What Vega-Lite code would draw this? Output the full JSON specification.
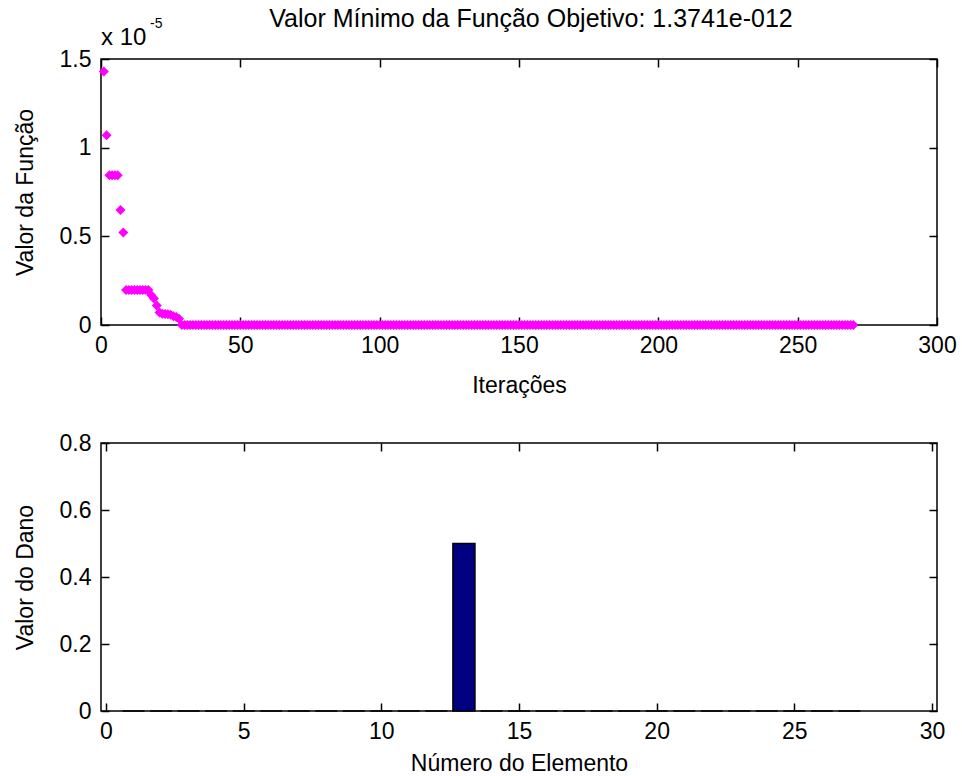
{
  "$schema": "https://vega.github.io/schema/vega-lite/v6.json",
  "background": "white",
  "padding": {"left": 13, "top": 6, "right": 5, "bottom": 0},
  "spacing": 33,
  "datasets": {
    "iteracoes": [
      {"i":1,"v":1.43e-5},{"i":2,"v":1.07e-5},{"i":3,"v":8.45e-6},{"i":4,"v":8.45e-6},{"i":5,"v":8.45e-6},{"i":6,"v":8.45e-6},{"i":7,"v":6.48e-6},{"i":8,"v":5.22e-6},
      {"i":9,"v":1.97e-6},{"i":10,"v":1.97e-6},{"i":11,"v":1.97e-6},{"i":12,"v":1.97e-6},{"i":13,"v":1.97e-6},{"i":14,"v":1.97e-6},{"i":15,"v":1.97e-6},{"i":16,"v":1.97e-6},{"i":17,"v":1.97e-6},
      {"i":18,"v":1.69e-6},{"i":19,"v":1.5e-6},{"i":20,"v":1.1e-6},{"i":21,"v":7e-7},{"i":22,"v":6.3e-7},{"i":23,"v":6.2e-7},{"i":24,"v":6e-7},{"i":25,"v":5.8e-7},{"i":26,"v":5e-7},{"i":27,"v":4.5e-7},{"i":28,"v":3.5e-7},
      {"i":29,"v":0},{"i":30,"v":0},{"i":31,"v":0},{"i":32,"v":0},{"i":33,"v":0},{"i":34,"v":0},{"i":35,"v":0},{"i":36,"v":0},{"i":37,"v":0},{"i":38,"v":0},{"i":39,"v":0},
      {"i":40,"v":0},{"i":41,"v":0},{"i":42,"v":0},{"i":43,"v":0},{"i":44,"v":0},{"i":45,"v":0},{"i":46,"v":0},{"i":47,"v":0},{"i":48,"v":0},{"i":49,"v":0},
      {"i":50,"v":0},{"i":51,"v":0},{"i":52,"v":0},{"i":53,"v":0},{"i":54,"v":0},{"i":55,"v":0},{"i":56,"v":0},{"i":57,"v":0},{"i":58,"v":0},{"i":59,"v":0},
      {"i":60,"v":0},{"i":61,"v":0},{"i":62,"v":0},{"i":63,"v":0},{"i":64,"v":0},{"i":65,"v":0},{"i":66,"v":0},{"i":67,"v":0},{"i":68,"v":0},{"i":69,"v":0},
      {"i":70,"v":0},{"i":71,"v":0},{"i":72,"v":0},{"i":73,"v":0},{"i":74,"v":0},{"i":75,"v":0},{"i":76,"v":0},{"i":77,"v":0},{"i":78,"v":0},{"i":79,"v":0},
      {"i":80,"v":0},{"i":81,"v":0},{"i":82,"v":0},{"i":83,"v":0},{"i":84,"v":0},{"i":85,"v":0},{"i":86,"v":0},{"i":87,"v":0},{"i":88,"v":0},{"i":89,"v":0},
      {"i":90,"v":0},{"i":91,"v":0},{"i":92,"v":0},{"i":93,"v":0},{"i":94,"v":0},{"i":95,"v":0},{"i":96,"v":0},{"i":97,"v":0},{"i":98,"v":0},{"i":99,"v":0},
      {"i":100,"v":0},{"i":101,"v":0},{"i":102,"v":0},{"i":103,"v":0},{"i":104,"v":0},{"i":105,"v":0},{"i":106,"v":0},{"i":107,"v":0},{"i":108,"v":0},{"i":109,"v":0},
      {"i":110,"v":0},{"i":111,"v":0},{"i":112,"v":0},{"i":113,"v":0},{"i":114,"v":0},{"i":115,"v":0},{"i":116,"v":0},{"i":117,"v":0},{"i":118,"v":0},{"i":119,"v":0},
      {"i":120,"v":0},{"i":121,"v":0},{"i":122,"v":0},{"i":123,"v":0},{"i":124,"v":0},{"i":125,"v":0},{"i":126,"v":0},{"i":127,"v":0},{"i":128,"v":0},{"i":129,"v":0},
      {"i":130,"v":0},{"i":131,"v":0},{"i":132,"v":0},{"i":133,"v":0},{"i":134,"v":0},{"i":135,"v":0},{"i":136,"v":0},{"i":137,"v":0},{"i":138,"v":0},{"i":139,"v":0},
      {"i":140,"v":0},{"i":141,"v":0},{"i":142,"v":0},{"i":143,"v":0},{"i":144,"v":0},{"i":145,"v":0},{"i":146,"v":0},{"i":147,"v":0},{"i":148,"v":0},{"i":149,"v":0},
      {"i":150,"v":0},{"i":151,"v":0},{"i":152,"v":0},{"i":153,"v":0},{"i":154,"v":0},{"i":155,"v":0},{"i":156,"v":0},{"i":157,"v":0},{"i":158,"v":0},{"i":159,"v":0},
      {"i":160,"v":0},{"i":161,"v":0},{"i":162,"v":0},{"i":163,"v":0},{"i":164,"v":0},{"i":165,"v":0},{"i":166,"v":0},{"i":167,"v":0},{"i":168,"v":0},{"i":169,"v":0},
      {"i":170,"v":0},{"i":171,"v":0},{"i":172,"v":0},{"i":173,"v":0},{"i":174,"v":0},{"i":175,"v":0},{"i":176,"v":0},{"i":177,"v":0},{"i":178,"v":0},{"i":179,"v":0},
      {"i":180,"v":0},{"i":181,"v":0},{"i":182,"v":0},{"i":183,"v":0},{"i":184,"v":0},{"i":185,"v":0},{"i":186,"v":0},{"i":187,"v":0},{"i":188,"v":0},{"i":189,"v":0},
      {"i":190,"v":0},{"i":191,"v":0},{"i":192,"v":0},{"i":193,"v":0},{"i":194,"v":0},{"i":195,"v":0},{"i":196,"v":0},{"i":197,"v":0},{"i":198,"v":0},{"i":199,"v":0},
      {"i":200,"v":0},{"i":201,"v":0},{"i":202,"v":0},{"i":203,"v":0},{"i":204,"v":0},{"i":205,"v":0},{"i":206,"v":0},{"i":207,"v":0},{"i":208,"v":0},{"i":209,"v":0},
      {"i":210,"v":0},{"i":211,"v":0},{"i":212,"v":0},{"i":213,"v":0},{"i":214,"v":0},{"i":215,"v":0},{"i":216,"v":0},{"i":217,"v":0},{"i":218,"v":0},{"i":219,"v":0},
      {"i":220,"v":0},{"i":221,"v":0},{"i":222,"v":0},{"i":223,"v":0},{"i":224,"v":0},{"i":225,"v":0},{"i":226,"v":0},{"i":227,"v":0},{"i":228,"v":0},{"i":229,"v":0},
      {"i":230,"v":0},{"i":231,"v":0},{"i":232,"v":0},{"i":233,"v":0},{"i":234,"v":0},{"i":235,"v":0},{"i":236,"v":0},{"i":237,"v":0},{"i":238,"v":0},{"i":239,"v":0},
      {"i":240,"v":0},{"i":241,"v":0},{"i":242,"v":0},{"i":243,"v":0},{"i":244,"v":0},{"i":245,"v":0},{"i":246,"v":0},{"i":247,"v":0},{"i":248,"v":0},{"i":249,"v":0},
      {"i":250,"v":0},{"i":251,"v":0},{"i":252,"v":0},{"i":253,"v":0},{"i":254,"v":0},{"i":255,"v":0},{"i":256,"v":0},{"i":257,"v":0},{"i":258,"v":0},{"i":259,"v":0},
      {"i":260,"v":0},{"i":261,"v":0},{"i":262,"v":0},{"i":263,"v":0},{"i":264,"v":0},{"i":265,"v":0},{"i":266,"v":0},{"i":267,"v":0},{"i":268,"v":0},{"i":269,"v":0},
      {"i":270,"v":0}
    ],
    "elementos": [
      {"e":1,"d":0},{"e":2,"d":0},{"e":3,"d":0},{"e":4,"d":0},{"e":5,"d":0},{"e":6,"d":0},{"e":7,"d":0},{"e":8,"d":0},{"e":9,"d":0},
      {"e":10,"d":0},{"e":11,"d":0},{"e":12,"d":0},{"e":13,"d":0.5},{"e":14,"d":0},{"e":15,"d":0},{"e":16,"d":0},{"e":17,"d":0},{"e":18,"d":0},
      {"e":19,"d":0},{"e":20,"d":0},{"e":21,"d":0},{"e":22,"d":0},{"e":23,"d":0},{"e":24,"d":0},{"e":25,"d":0},{"e":26,"d":0},{"e":27,"d":0}
    ],
    "expoente": [{"base": "x 10", "exp": "-5"}]
  },
  "vconcat": [
    {
      "width": 836,
      "height": 266,
      "title": {"text": "Valor Mínimo da Função Objetivo: 1.3741e-012", "fontSize": 25, "fontWeight": "normal", "color": "#000", "anchor": "middle", "frame": "group", "offset": -15, "dx": 12, "font": "Liberation Sans"},
      "layer": [
        {
          "data": {"name": "iteracoes"},
          "mark": {"type": "point", "shape": "diamond", "filled": true, "color": "#FF00FF", "size": 100, "opacity": 1},
          "encoding": {
            "x": {"field": "i", "type": "quantitative", "scale": {"domain": [0, 300], "nice": false, "zero": false},
                  "axis": {"orient": "bottom", "values": [0, 50, 100, 150, 200, 250, 300], "title": "Iterações", "titlePadding": 17}},
            "y": {"field": "v", "type": "quantitative", "scale": {"domain": [0, 1.5e-5], "nice": false},
                  "axis": {"orient": "left", "values": [0, 0.000005, 0.00001, 0.000015], "labelExpr": "format(datum.value*100000, '~g')", "title": "Valor da Função", "titlePadding": 22}}
          }
        },
        {
          "data": {"name": "iteracoes"},
          "mark": {"type": "point", "opacity": 0},
          "encoding": {
            "x": {"field": "i", "type": "quantitative", "axis": {"orient": "top", "values": [0, 50, 100, 150, 200, 250, 300], "labels": false, "title": null}},
            "y": {"field": "v", "type": "quantitative", "axis": {"orient": "right", "values": [0, 0.000005, 0.00001, 0.000015], "labels": false, "title": null}}
          }
        },
        {
          "data": {"name": "expoente"},
          "mark": {"type": "text", "align": "left", "baseline": "middle", "fontSize": 24, "dy": -21, "color": "#000", "font": "Liberation Sans"},
          "encoding": {"text": {"field": "base"}, "x": {"datum": 0, "type": "quantitative", "axis": null}, "y": {"datum": 0.000015, "type": "quantitative", "axis": null}}
        },
        {
          "data": {"name": "expoente"},
          "mark": {"type": "text", "align": "left", "baseline": "middle", "fontSize": 14, "dx": 49, "dy": -35, "color": "#000", "font": "Liberation Sans"},
          "encoding": {"text": {"field": "exp"}, "x": {"datum": 0, "type": "quantitative", "axis": null}, "y": {"datum": 0.000015, "type": "quantitative", "axis": null}}
        }
      ],
      "resolve": {"axis": {"x": "independent", "y": "independent"}}
    },
    {
      "width": 836,
      "height": 268,
      "data": {"name": "elementos"},
      "layer": [
        {
          "mark": {"type": "bar", "size": 22, "color": "#000080", "stroke": "#000", "strokeWidth": 1.5},
          "encoding": {
            "x": {"field": "e", "type": "quantitative", "scale": {"domain": [0, 30], "nice": false, "zero": false},
                  "axis": {"orient": "bottom", "values": [0, 5, 10, 15, 20, 25, 30], "title": "Número do Elemento", "titlePadding": 9}},
            "y": {"field": "d", "type": "quantitative", "stack": null, "scale": {"domain": [0, 0.8], "nice": false},
                  "axis": {"orient": "left", "values": [0, 0.2, 0.4, 0.6, 0.8], "labelExpr": "format(datum.value, '~g')", "title": "Valor do Dano", "titlePadding": 22}}
          }
        },
        {
          "mark": {"type": "point", "opacity": 0},
          "encoding": {
            "x": {"field": "e", "type": "quantitative", "axis": {"orient": "top", "values": [0, 5, 10, 15, 20, 25, 30], "labels": false, "title": null}},
            "y": {"field": "d", "type": "quantitative", "axis": {"orient": "right", "values": [0, 0.2, 0.4, 0.6, 0.8], "labels": false, "title": null}}
          }
        }
      ],
      "resolve": {"axis": {"x": "independent", "y": "independent"}}
    }
  ],
  "config": {
    "font": "Liberation Sans",
    "view": {"stroke": "#000", "strokeWidth": 1.5},
    "axis": {
      "domain": false,
      "grid": false,
      "ticks": true,
      "tickColor": "#000",
      "tickSize": -8,
      "tickWidth": 1.5,
      "labelColor": "#000",
      "labelFontSize": 23,
      "labelFont": "Liberation Sans",
      "labelPadding": 17,
      "labelFlush": false,
      "labelOverlap": false,
      "labelBound": false,
      "titleColor": "#000",
      "titleFontSize": 23,
      "titleFontWeight": "normal",
      "titleFont": "Liberation Sans"
    },
    "axisY": {"labelPadding": 18}
  }
}
